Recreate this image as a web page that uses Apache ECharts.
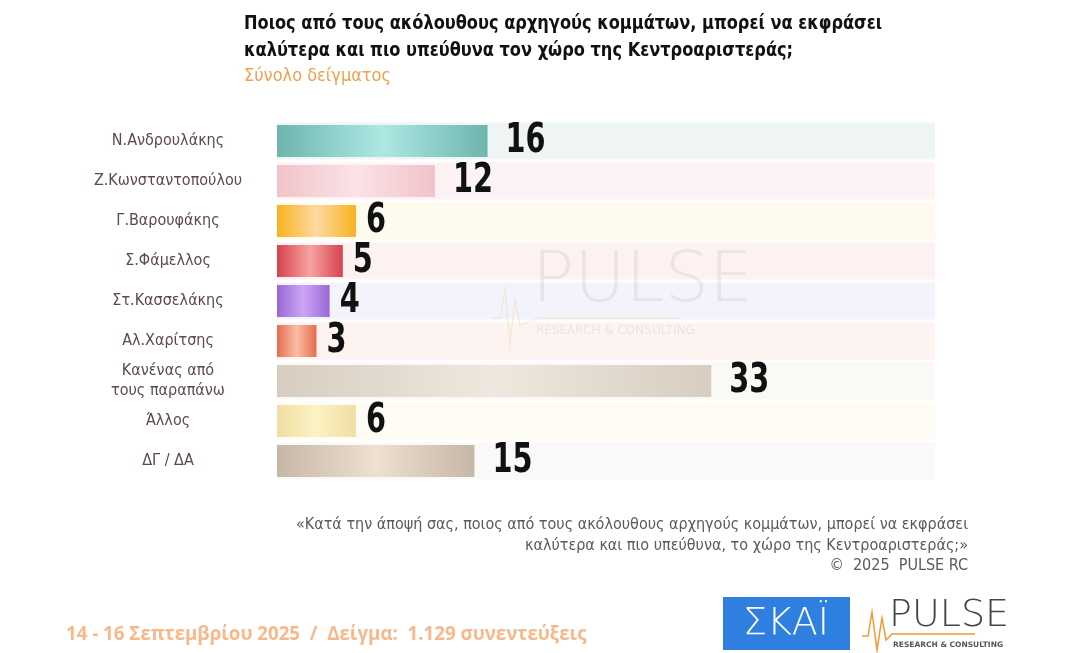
<!DOCTYPE html>
<html>
<head>
<meta charset="utf-8">
<script src="https://cdn.jsdelivr.net/npm/echarts@6/dist/echarts.min.js"></script>
<style>
  html, body { margin: 0; padding: 0; background: #fff; }
  #chart { width: 1078px; height: 653px; }
</style>
</head>
<body>
<div id="chart"></div>
<script>
// data
var leaders = ['Ν.Ανδρουλάκης', 'Ζ.Κωνσταντοπούλου', 'Γ.Βαρουφάκης', 'Σ.Φάμελλος',
  'Στ.Κασσελάκης', 'Αλ.Χαρίτσης', 'Κανένας από\nτους παραπάνω', 'Άλλος', 'ΔΓ / ΔΑ'];
var shares = [16, 12, 6, 5, 4, 3, 33, 6, 15];
var trackMax = 50;

// bar colours: [edge, middle]
var barColors = [
  ['#6db5ad', '#aee8e3'], ['#f0c3c9', '#fbe3e6'], ['#f8b21f', '#fddaa3'],
  ['#d5434b', '#f7a3a3'], ['#9868d6', '#cda6f5'], ['#e66d4e', '#f9bea6'],
  ['#d7cdc1', '#f0e8de'], ['#f0dfa3', '#fcf2c4'], ['#c6b6a6', '#eee1d2']
];
var trackColors = ['#eef5f4', '#fdf3f5', '#fefbee', '#fdf1f1', '#f3f3fb',
  '#fdf3f1', '#fbf9f6', '#fefcf4', '#fbf9f7'];

var narrow = '"DejaVu Sans Condensed", sans-serif';

function grad(c) {
  return new echarts.graphic.LinearGradient(0, 0, 1, 0, [
    { offset: 0, color: c[0] }, { offset: 0.5, color: c[1] }, { offset: 1, color: c[0] }
  ]);
}

var chart = echarts.init(document.getElementById('chart'));

var option = {
  backgroundColor: '#fff',
  animation: false,
  grid: { left: 277, top: 121, width: 658, height: 360 },
  xAxis: { type: 'value', min: 0, max: trackMax, show: false },
  yAxis: [{
    type: 'category', data: leaders, inverse: true,
    axisLine: { show: false }, axisTick: { show: false },
    axisLabel: {
      align: 'center', margin: 109, fontFamily: narrow, fontSize: 16,
      color: '#5b4a4a', lineHeight: 20
    }
  }, {
    type: 'category', data: leaders, inverse: true, show: false
  }],
  series: [{
    type: 'bar', yAxisIndex: 1, barWidth: 37, silent: true,
    data: trackColors.map(function (c) { return { value: trackMax, itemStyle: { color: c } }; }),
    z: 1
  }, {
    type: 'bar', yAxisIndex: 0, barWidth: 32,
    data: shares.map(function (v, i) { return { value: v, itemStyle: { color: grad(barColors[i]) } }; }),
    z: 3
  }, {
    // value labels, squeezed to look like the narrow slide font
    type: 'custom', yAxisIndex: 0, z: 4, silent: true,
    encode: { x: 0, y: 1 },
    data: shares.map(function (v, i) { return [v, i]; }),
    renderItem: function (params, api) {
      var v = api.value(0);
      var p = api.coord([v, api.value(1)]);
      var gap = String(v).length > 1 ? 18 : 10;
      return {
        type: 'text', x: p[0] + gap, y: p[1] + 1, scaleX: 0.8,
        style: { text: String(v), font: 'bold 40px ' + narrow, fill: '#111', verticalAlign: 'middle' }
      };
    }
  }],
  graphic: [
    // title
    { type: 'text', x: 244, y: 10, scaleX: 0.9,
      style: { text: 'Ποιος από τους ακόλουθους αρχηγούς κομμάτων, μπορεί να εκφράσει\nκαλύτερα και πιο υπεύθυνα τον χώρο της Κεντροαριστεράς;',
        font: 'bold 20px ' + narrow, fill: '#111', lineHeight: 27 } },
    { type: 'text', x: 244, y: 67,
      style: { text: 'Σύνολο δείγματος', font: '18px ' + narrow, fill: '#f0a04c' } },
    // faded watermark
    { type: 'text', left: 532, top: 248, z: 2, silent: true,
      style: { text: 'PULSE', font: '200 70px "DejaVu Sans", sans-serif', fill: 'rgba(150,150,150,0.15)', letterSpacing: 10 } },
    { type: 'text', left: 536, top: 325, z: 2, silent: true,
      style: { text: 'RESEARCH & CONSULTING', font: '12px "DejaVu Sans", sans-serif', fill: 'rgba(150,150,150,0.16)', letterSpacing: 3 } },
    { type: 'polyline', z: 2, silent: true,
      shape: { points: [[492, 318], [500, 318], [505, 290], [510, 345], [515, 300], [520, 325], [540, 318], [680, 318]] },
      style: { stroke: 'rgba(240,160,80,0.15)', lineWidth: 1.5, fill: null } },
    // footnote
    { type: 'text', x: 968, y: 515,
      style: { text: '«Κατά την άποψή σας, ποιος από τους ακόλουθους αρχηγούς κομμάτων, μπορεί να εκφράσει\nκαλύτερα και πιο υπεύθυνα, το χώρο της Κεντροαριστεράς;»\n©  2025  PULSE RC',
        font: '16px ' + narrow, fill: '#5a5a5a', align: 'right', lineHeight: 20.5 } },
    // field dates
    { type: 'text', left: 66, top: 625,
      style: { text: '14 - 16 Σεπτεμβρίου 2025  /  Δείγμα:  1.129 συνεντεύξεις',
        font: 'bold 18.7px "Open Sans", sans-serif', fill: '#f6b98c' } },
    // SKAI logo
    { type: 'rect', shape: { x: 723, y: 597, width: 127, height: 53 }, style: { fill: '#2f7fe0' } },
    { type: 'text', x: 786, y: 624,
      style: { text: 'ΣΚΑΪ', font: '300 38px "DejaVu Sans", sans-serif', fill: '#fff', align: 'center', verticalAlign: 'middle', letterSpacing: 4 } },
    // PULSE logo
    { type: 'text', left: 889, top: 597,
      style: { text: 'PULSE', font: '200 38px "DejaVu Sans", sans-serif', fill: '#444', letterSpacing: 3 } },
    { type: 'polyline',
      shape: { points: [[862, 636], [868, 636], [872, 612], [877, 650], [882, 618], [886, 640], [892, 634], [975, 634]] },
      style: { stroke: '#f29a2e', lineWidth: 1.5, fill: null } },
    { type: 'text', left: 893, top: 641,
      style: { text: 'RESEARCH & CONSULTING', font: 'bold 7.5px "DejaVu Sans", sans-serif', fill: '#555', letterSpacing: 0.6 } }
  ]
};

chart.setOption(option);
</script>
</body>
</html>
